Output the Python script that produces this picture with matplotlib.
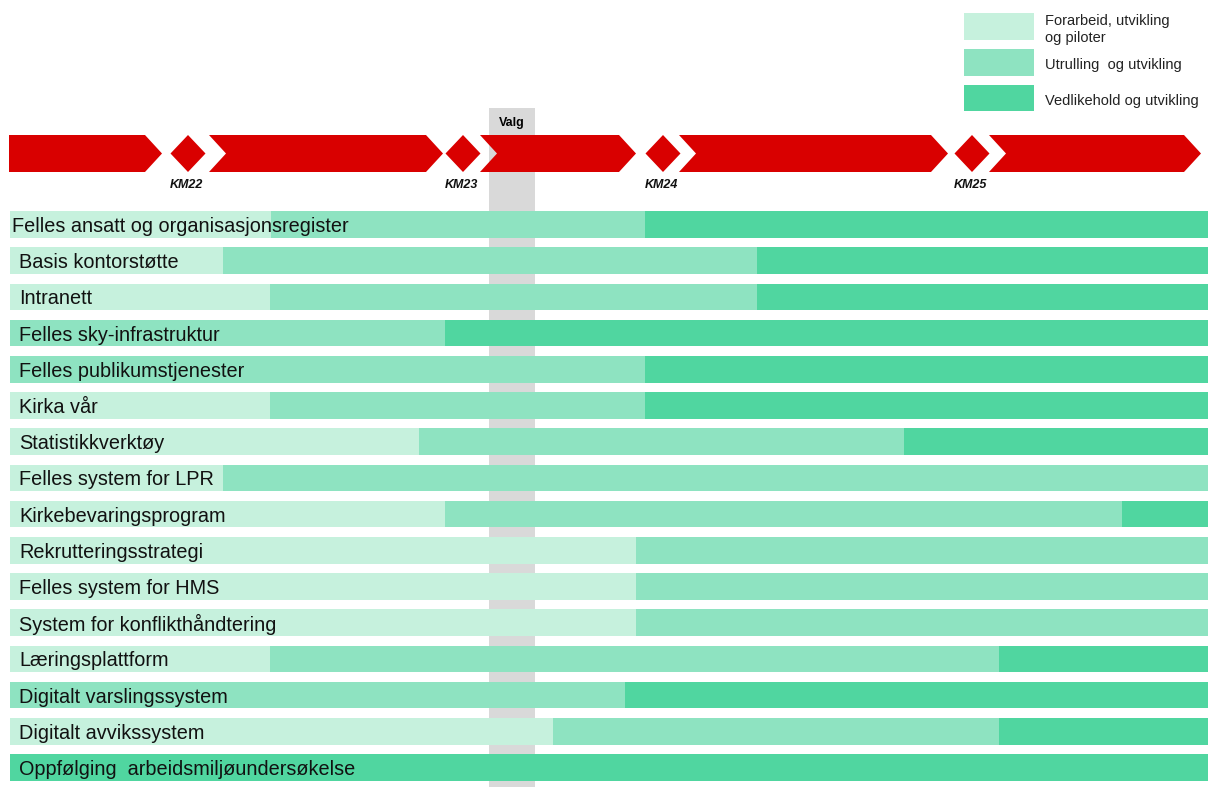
import matplotlib.pyplot as plt
from matplotlib.patches import Polygon, Rectangle
import numpy as np

plt.rcParams['font.family'] = ['Liberation Sans', 'DejaVu Sans']

# timeline units run left to right across the chart (0 .. 1208)
tasks = [
    "Felles ansatt og organisasjonsregister",
    "Basis kontorstøtte",
    "Intranett",
    "Felles sky-infrastruktur",
    "Felles publikumstjenester",
    "Kirka vår",
    "Statistikkverktøy",
    "Felles system for LPR",
    "Kirkebevaringsprogram",
    "Rekrutteringsstrategi",
    "Felles system for HMS",
    "System for konflikthåndtering",
    "Læringsplattform",
    "Digitalt varslingssystem",
    "Digitalt avvikssystem",
    "Oppfølging  arbeidsmiljøundersøkelse",
]

# (start, end) of each phase per task, None when the phase is missing
forarbeid = [(10, 271), (10, 223), (10, 270), None, None, (10, 270), (10, 419), (10, 223),
             (10, 445), (10, 636), (10, 636), (10, 636), (10, 270), None, (10, 553), None]
utrulling = [(271, 645), (223, 757), (270, 757), (10, 445), (10, 645), (270, 645), (419, 904),
             (223, 1208), (445, 1122), (636, 1208), (636, 1208), (636, 1208), (270, 999),
             (10, 625), (553, 999), None]
vedlikehold = [(645, 1208), (757, 1208), (757, 1208), (445, 1208), (645, 1208), (645, 1208),
               (904, 1208), None, (1122, 1208), None, None, None, (999, 1208), (625, 1208),
               (999, 1208), (10, 1208)]

phase_names = ["Forarbeid, utvikling\nog piloter", "Utrulling  og utvikling", "Vedlikehold og utvikling"]
phase_colors = ["#c6f1dd", "#8ee3c1", "#50d6a0"]

# timeline: arrow segments and milestones
arrow_segments = [(9, 162), (209, 443), (480, 636), (679, 948), (989, 1201)]
milestones = [188, 463, 663, 972]
milestone_labels = ["KM22", "KM23", "KM24", "KM25"]
valg_span = (489, 535)

fig = plt.figure(figsize=(12.08, 7.87), dpi=100)
ax = fig.add_axes([0, 0, 1, 1])
ax.set_xlim(0, 1208)
ax.set_ylim(787, 0)
ax.axis("off")

# row layout
row0, pitch, bar_h = 224.5, 36.2, 26.5
y = row0 + np.arange(len(tasks)) * pitch

# election column
ax.add_patch(Rectangle((valg_span[0], 108), valg_span[1] - valg_span[0], 787 - 108,
                       color="#d9d9d9", zorder=0, lw=0))
ax.text(sum(valg_span) / 2, 123, "Valg", ha="center", va="center",
        fontsize=9, fontweight="bold")

for spans, color in zip([forarbeid, utrulling, vedlikehold], phase_colors):
    for yi, sp in zip(y, spans):
        if sp is None:
            continue
        ax.barh(yi, sp[1] - sp[0], left=sp[0], height=bar_h, color=color, lw=0, zorder=2)

for i, (yi, name) in enumerate(zip(y, tasks)):
    ax.text(12 if i == 0 else 19, yi + 2, name, ha="left", va="center",
            fontsize=14.3, color="#111111", zorder=3)

# red timeline band
top, bot = 135, 172
mid = (top + bot) / 2
d = 17
red = "#d90000"
for k, (s, e) in enumerate(arrow_segments):
    pts = [(s, top), (e - d, top), (e, mid), (e - d, bot), (s, bot)]
    if k > 0:
        pts.append((s + d, mid))
    ax.add_patch(Polygon(pts, closed=True, color=red, lw=0, zorder=2))
for c, lab in zip(milestones, milestone_labels):
    ax.add_patch(Polygon([(c - 17.5, mid), (c, top), (c + 17.5, mid), (c, bot)],
                         closed=True, color=red, lw=0, zorder=2))
    ax.text(c - 2, 185, lab, ha="center", va="center", fontsize=9,
            fontweight="bold", fontstyle="italic", color="#111111")

# legend
legend_rows = [(13, 40), (49, 76), (85, 111)]
for (y0, y1), name, color in zip(legend_rows, phase_names, phase_colors):
    ax.add_patch(Rectangle((964, y0), 70, y1 - y0, color=color, lw=0))
    ax.text(1045, (y0 + y1) / 2 + 3, name, ha="left", va="center",
            fontsize=10.5, color="#222222", linespacing=1.25)

fig.savefig("out.png", dpi=100)
